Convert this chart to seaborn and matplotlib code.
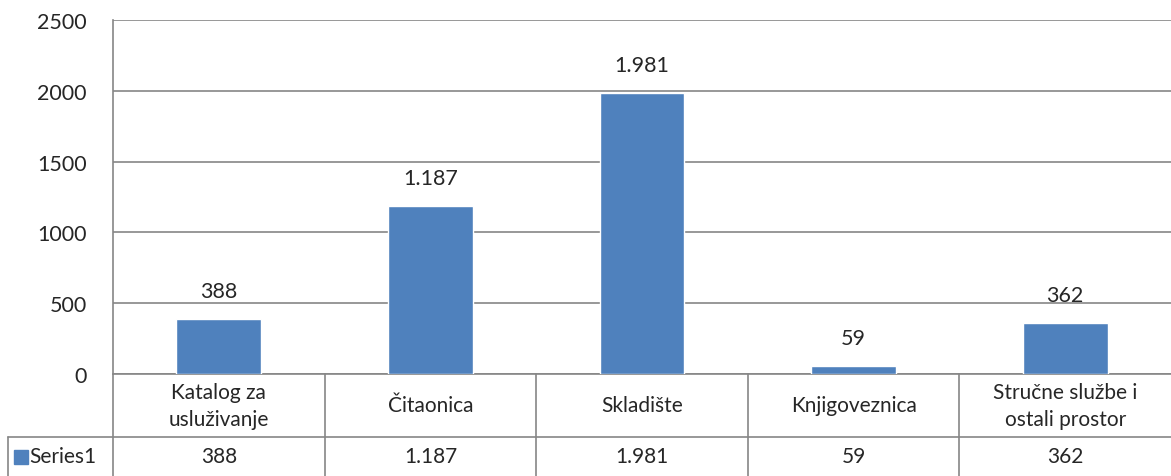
import matplotlib.pyplot as plt
import seaborn as sns
import pandas as pd

categories = ["Katalog za\nusluživanje", "Čitaonica", "Skladište", "Knjigoveznica", "Stručne službe i\nostali prostor"]
values = [388, 1187, 1981, 59, 362]
value_labels = ["388", "1.187", "1.981", "59", "362"]
series_name = "Series1"
y_ticks = [0, 500, 1000, 1500, 2000, 2500]

bar_color = "#4F81BD"
line_color = "#868686"

sns.set_style("white")
plt.rcParams["font.family"] = ["Lato", "DejaVu Sans"]

df = pd.DataFrame({"category": categories, "value": values})

fig = plt.figure(figsize=(11.71, 4.77), dpi=100)
ax = fig.add_axes([113 / 1171, 102 / 477, 1 - 113 / 1171, 354 / 477])

sns.barplot(data=df, x="category", y="value", color=bar_color, width=0.4,
            saturation=1, ax=ax, zorder=3)

ax.set_xlim(-0.5, len(categories) - 0.5)
ax.set_ylim(0, 2500)
ax.set_yticks(y_ticks)
ax.set_yticklabels([str(t) for t in y_ticks], fontsize=15.5)
ax.tick_params(axis="y", length=0, pad=19)
ax.set_xticks([])
ax.set_xlabel("")
ax.set_ylabel("")
ax.grid(axis="y", color=line_color, linewidth=1.2, zorder=0)
for side in ["top", "right", "bottom"]:
    ax.spines[side].set_visible(False)
ax.spines["left"].set_color(line_color)
ax.spines["left"].set_linewidth(1.2)

for i, (v, lab) in enumerate(zip(values, value_labels)):
    ax.annotate(lab, (i, v), xytext=(0, 13), textcoords="offset points",
                ha="center", va="bottom", fontsize=15.5)

# data table under the axis
trans = ax.get_xaxis_transform()
row1 = -63 / 354
row2 = -110 / 354
left_edge = (8 - 113) / 211.6 - 0.5
n = len(categories)
kw = dict(color=line_color, linewidth=1.2, transform=trans, clip_on=False)
ax.plot([-0.5, n - 0.5], [0, 0], **kw)
ax.plot([left_edge, n - 0.5], [row1, row1], **kw)
for b in range(n):
    ax.plot([b - 0.5, b - 0.5], [0, row2], **kw)
ax.plot([left_edge, left_edge], [row1, row2], **kw)

key_y = (row1 + (-102 / 354)) / 2
for i, (cat, lab) in enumerate(zip(categories, value_labels)):
    ax.text(i, row1 / 2, cat, ha="center", va="center", fontsize=15,
            linespacing=1.45, transform=trans, clip_on=False)
    ax.text(i, key_y, lab, ha="center", va="center",
            fontsize=15, transform=trans, clip_on=False)

ax.plot([left_edge + 0.06], [key_y], marker="s", markersize=10, color=bar_color,
        transform=trans, clip_on=False, linestyle="none")
ax.text(left_edge + 0.1, key_y, series_name, ha="left", va="center", fontsize=15,
        transform=trans, clip_on=False)

plt.savefig("out.png", dpi=100)
